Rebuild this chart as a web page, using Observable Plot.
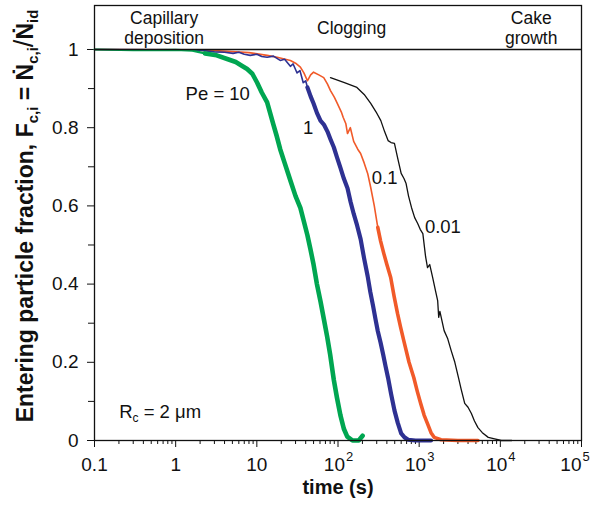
<!DOCTYPE html>
<html><head><meta charset="utf-8">
<script src="https://cdn.jsdelivr.net/npm/d3@7"></script>
<script src="https://cdn.jsdelivr.net/npm/@observablehq/plot@0.6"></script>
<style>
body{margin:0;background:#fff;}
#chart svg{font-family:"Liberation Sans",Arial,sans-serif;background:#fff;}
</style></head><body><div id="chart"></div>
<script>
// time (s), entering particle fraction
const pe10 = [[0.1,1.0],[0.3,0.998],[1,0.999],[1.6,0.997],[2.3,0.99],[3.2,0.985],[4.4,0.975],[5.5,0.968],[6.6,0.958],[7.6,0.95],[8.8,0.938],[10.1,0.915],[11.5,0.89],[13.4,0.865],[15.9,0.81],[17.5,0.78],[19.4,0.745],[22,0.71],[25.9,0.665],[30,0.625],[34.4,0.595],[38,0.56],[42,0.525],[45.7,0.49],[50,0.45],[55,0.40],[61,0.355],[67,0.31],[73.6,0.265],[80,0.22],[88.8,0.155],[97,0.11],[107,0.065],[118,0.03],[130,0.01],[151,0.0],[180,0.0],[201,0.012]];
const pe1 = [[0.1,1.0],[1,0.999],[2,0.998],[3,0.994],[4,0.993],[5.1,0.99],[6,0.993],[7,0.988],[8.3,0.985],[10,0.988],[11.5,0.982],[13.4,0.98],[16,0.983],[19.4,0.972],[22,0.975],[25.9,0.957],[28,0.963],[31.3,0.94],[34,0.946],[37.3,0.915],[40,0.92],[42,0.903],[46,0.88],[50,0.862],[55,0.838],[60.8,0.818],[67,0.808],[74.2,0.79],[81,0.77],[88.8,0.75],[97,0.725],[107,0.698],[118,0.67],[131,0.645],[143,0.61],[156,0.58],[172,0.55],[190,0.515],[210,0.465],[232,0.42],[250,0.38],[270,0.345],[290,0.31],[309,0.28],[335,0.25],[360,0.22],[385,0.19],[414,0.16],[450,0.12],[496,0.077],[545,0.045],[600,0.018],[660,0.008],[733,0.002],[900,0.0],[1400,0.0]];
const pe01 = [[0.1,1.0],[1,0.999],[3,0.997],[8,0.992],[13.4,0.985],[17.8,0.98],[25.9,0.972],[30,0.965],[34.4,0.955],[38,0.94],[42,0.92],[46,0.935],[50,0.942],[58,0.935],[66.7,0.928],[74,0.912],[80.8,0.895],[90,0.878],[98,0.862],[110,0.84],[116,0.826],[125,0.81],[131,0.785],[142,0.80],[156,0.765],[175,0.745],[190,0.734],[210,0.71],[232,0.683],[253,0.647],[280,0.6],[309,0.545],[335,0.51],[367,0.478],[400,0.45],[446,0.417],[490,0.37],[541,0.325],[590,0.29],[645,0.256],[750,0.2],[858,0.161],[950,0.125],[1042,0.095],[1150,0.065],[1267,0.043],[1400,0.02],[1530,0.008],[1860,0.002],[3000,0.0],[5300,0.0]];
const pe001 = [[80.8,0.928],[120,0.915],[171,0.903],[210,0.885],[253,0.862],[295,0.84],[337,0.818],[375,0.79],[414,0.767],[450,0.762],[496,0.76],[541,0.724],[600,0.683],[650,0.67],[690,0.657],[740,0.625],[804,0.596],[880,0.57],[959,0.555],[1030,0.54],[1110,0.529],[1200,0.47],[1267,0.442],[1350,0.45],[1465,0.417],[1600,0.38],[1690,0.358],[1740,0.315],[1800,0.33],[2030,0.281],[2250,0.26],[2480,0.23],[2750,0.2],[3050,0.161],[3300,0.13],[3640,0.095],[4000,0.085],[4400,0.069],[4800,0.05],[5300,0.033],[6000,0.02],[7100,0.008],[8500,0.004],[10300,0.0],[13800,0.0]];

const seriesColors = ["#00a651","#2e3192","#f15a29","#111111"];

const xMajor = [0.1,1,10,100,1000,10000,100000];
const xTickBase = ["0.1","1","10","10","10","10","10"];
const xTickExp = ["","","","2","3","4","5"];
const xMinor = [0.2,0.3,0.4,0.5,0.6,0.7,0.8,0.9,2,3,4,5,6,7,8,9,20,30,40,50,60,70,80,90,200,300,400,500,600,700,800,900,2000,3000,4000,5000,6000,7000,8000,9000,20000,30000,40000,50000,60000,70000,80000,90000];
const yMajor = [0,0.2,0.4,0.6,0.8,1];
const yMinor = [0.1,0.3,0.5,0.7,0.9];

const stageLabels = ["Capillary\ndeposition","Clogging","Cake\ngrowth"];
const stageX = [0.72,147,24000];
const stageY = [1.056,1.056,1.056];

const curveLabels = ["Pe = 10","1","0.1","0.01"];
const curveLabelX = [3.3,43,376,1960];
const curveLabelY = [0.885,0.80,0.67,0.547];

const toRows = arr => arr.map(([t,F]) => ({t, F}));
const rows10 = toRows(pe10), rows1 = toRows(pe1), rows01 = toRows(pe01), rows001 = toRows(pe001);

const xTicks = xMajor.map((t,i) => ({t, base: xTickBase[i], exp: xTickExp[i]}));
const stages = stageLabels.map((text,i) => ({text, x: stageX[i], y: stageY[i]}));
const clabels = curveLabels.map((text,i) => ({text, x: curveLabelX[i], y: curveLabelY[i]}));

const line = (data, i, width) => Plot.line(data, {x:"t", y:"F", stroke: seriesColors[i], strokeWidth: width, strokeLinejoin:"round", strokeLinecap:"round"});
// split a series into a thin head and a thick (noisy) tail sharing one point
const head = (rows, t0) => { const k = rows.findIndex(d => d.t >= t0); return rows.slice(0, k + 1); };
const tail = (rows, t0) => { const k = rows.findIndex(d => d.t >= t0); return rows.slice(k); };

const powTicks = xTicks.filter(d => d.exp);
const plot = Plot.plot({
  width: 593, height: 510,
  marginLeft: 94, marginRight: 12, marginTop: 5, marginBottom: 70,
  x: {type: "log", domain: [0.1, 1e5]},
  y: {domain: [0, 1.1125]},
  style: {fontFamily: "Liberation Sans, Arial, sans-serif", color: "#111", background: "#fff"},
  marks: [
    Plot.axisY({ticks: yMajor, tickSize: 7, tickPadding: 9, fontSize: 19, label: null, tickFormat: d => String(+d.toFixed(1))}),
    Plot.axisY({ticks: yMinor, tickSize: 6, tickFormat: () => "", label: null}),
    Plot.axisX({ticks: xMajor, tickSize: 7, tickFormat: () => "", label: null}),
    Plot.axisX({ticks: xMinor, tickSize: 4, tickFormat: () => "", label: null}),
    Plot.text(xTicks.filter(d => !d.exp), {x: "t", y: () => 0, text: "base", dy: 24, fontSize: 19}),
    Plot.text(powTicks.slice(0, -1), {x: "t", y: () => 0, text: "base", dy: 24, dx: 7, textAnchor: "end", fontSize: 19}),
    Plot.text(powTicks.slice(0, -1), {x: "t", y: () => 0, text: "exp", dy: 16, dx: 8, textAnchor: "start", fontSize: 13}),
    Plot.text(powTicks.slice(-1), {x: "t", y: () => 0, text: "base", dy: 24, dx: 0, textAnchor: "end", fontSize: 19}),
    Plot.text(powTicks.slice(-1), {x: "t", y: () => 0, text: "exp", dy: 16, dx: 1, textAnchor: "start", fontSize: 13}),
    Plot.text(["time (s)"], {frameAnchor: "bottom", dy: 53, fontSize: 20, fontWeight: "bold"}),
    line(rows001, 3, 1.3),
    line(head(rows01, 309), 2, 1.6),
    line(tail(rows01, 309), 2, 3.6),
    line(head(rows1, 42), 1, 1.6),
    line(tail(rows1, 42), 1, 4.2),
    line(head(rows10, 2.3), 0, 2.2),
    line(tail(rows10, 2.3), 0, 4.6),
    Plot.ruleY([1], {stroke: "#111", strokeWidth: 1.3}),
    Plot.frame({stroke: "#111", strokeWidth: 1.3}),
    Plot.text(stages, {x: "x", y: "y", text: "text", fontSize: 17.5, lineHeight: 1.15}),
    Plot.text(clabels, {x: "x", y: "y", text: "text", fontSize: 18.5})
  ]
});

document.getElementById("chart").appendChild(plot);

const svg = d3.select(plot);
const sx = plot.scale("x"), sy = plot.scale("y");

// y-axis title with subscripts and dot accents
const yt = svg.append("text")
  .attr("transform", "translate(33,216) rotate(-90)")
  .attr("text-anchor", "middle")
  .attr("font-size", 23).attr("font-weight", "bold").attr("fill", "#111");
yt.append("tspan").text("Entering particle fraction, F");
yt.append("tspan").attr("font-size", 15).attr("dy", 5).text("c,i");
yt.append("tspan").attr("dy", -5).text(" = Ṅ");
yt.append("tspan").attr("font-size", 15).attr("dy", 5).text("c,i");
yt.append("tspan").attr("dy", -5).attr("font-weight", "normal").attr("font-size", 27).text("/");
yt.append("tspan").text("Ṅ");
yt.append("tspan").attr("font-size", 15).attr("dy", 5).text("id");

// R_c = 2 µm annotation
const rc = svg.append("text")
  .attr("text-anchor", "start")
  .attr("x", sx.apply(0.204)).attr("y", sy.apply(0.0716) + 6)
  .attr("font-size", 18.5).attr("fill", "#111");
rc.append("tspan").text("R");
rc.append("tspan").attr("font-size", 12).attr("dy", 4).text("c");
rc.append("tspan").attr("dy", -4).text(" = 2 μm");
</script>
</body></html>
